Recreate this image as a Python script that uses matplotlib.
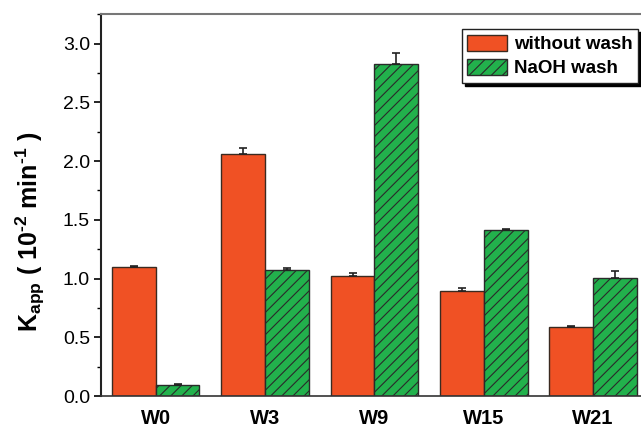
import matplotlib
matplotlib.use("Agg")
import matplotlib.pyplot as plt
import numpy as np
from matplotlib.ticker import MultipleLocator, FormatStrFormatter

plt.rcParams["font.family"] = ["Liberation Sans", "DejaVu Sans"]
plt.rcParams["axes.unicode_minus"] = False
plt.rcParams["hatch.color"] = "#333333"
plt.rcParams["hatch.linewidth"] = 0.8

samples = ["W0", "W3", "W9", "W15", "W21"]
k_unwashed = [1.095, 2.062, 1.02, 0.895, 0.584]
k_unwashed_err = [0.012, 0.05, 0.025, 0.025, 0.014]
k_naoh = [0.095, 1.076, 2.823, 1.41, 1.008]
k_naoh_err = [0.004, 0.014, 0.097, 0.015, 0.06]

fig = plt.figure(figsize=(6.41, 4.29), dpi=100)
ax = fig.add_axes([0.1576, 0.0769, 0.853, 0.890])

xs = np.arange(len(samples))
w = 0.4
err_kw = dict(ecolor="#222222", elinewidth=1.2, capsize=3, capthick=1.2)
ax.bar(xs - w / 2, k_unwashed, w, color="#F05124", edgecolor="#3a2a20", linewidth=1.0,
       yerr=[np.zeros(len(xs)), k_unwashed_err], error_kw=err_kw, label="without wash")
ax.bar(xs + w / 2, k_naoh, w, color="#22B14C", edgecolor="#2a2a2a", linewidth=1.0, hatch="///",
       yerr=[np.zeros(len(xs)), k_naoh_err], error_kw=err_kw, label="NaOH wash")

ax.set_xlim(-0.5, len(samples) - 0.5)
ax.set_ylim(0, 3.25)
ax.yaxis.set_major_locator(MultipleLocator(0.5))
ax.yaxis.set_minor_locator(MultipleLocator(0.25))
ax.yaxis.set_major_formatter(FormatStrFormatter("%.1f"))
ax.tick_params(axis="y", which="major", direction="out", length=5, width=1.2, labelsize=14, pad=3)
ax.tick_params(axis="y", which="minor", direction="out", length=3, width=1.0)
ax.set_xticks(xs)
ax.set_xticklabels(samples, fontsize=14.5, fontweight="bold")
ax.tick_params(axis="x", length=0, pad=9)

ax.spines["right"].set_visible(False)
ax.spines["left"].set_linewidth(1.5)
ax.spines["left"].set_color("#222222")
ax.spines["bottom"].set_linewidth(1.2)
ax.spines["bottom"].set_color("#333333")
ax.spines["top"].set_linewidth(1.5)
ax.spines["top"].set_color("#777777")

# hyphen (U+2010) keeps the short dash in the bold superscripts
ax.set_ylabel("K$_{\\mathregular{app}}$ ( 10$^{\\mathregular{\u20102}}$ min$^{\\mathregular{\u20101}}$ )",
              fontsize=18, fontweight="bold")
ax.yaxis.set_label_coords(-0.098, 0.43)

leg = ax.legend(loc="upper right", bbox_to_anchor=(0.983, 0.96), frameon=True, fancybox=False,
                shadow={"color": "black", "alpha": 1.0},
                prop={"weight": "bold", "size": 13.5}, handlelength=2.1, handleheight=0.9,
                borderpad=0.3, labelspacing=0.3, handletextpad=0.4, borderaxespad=0)
leg.get_frame().set_edgecolor("#222222")
leg.get_frame().set_linewidth(1.0)

fig.savefig("out.png", dpi=100)
